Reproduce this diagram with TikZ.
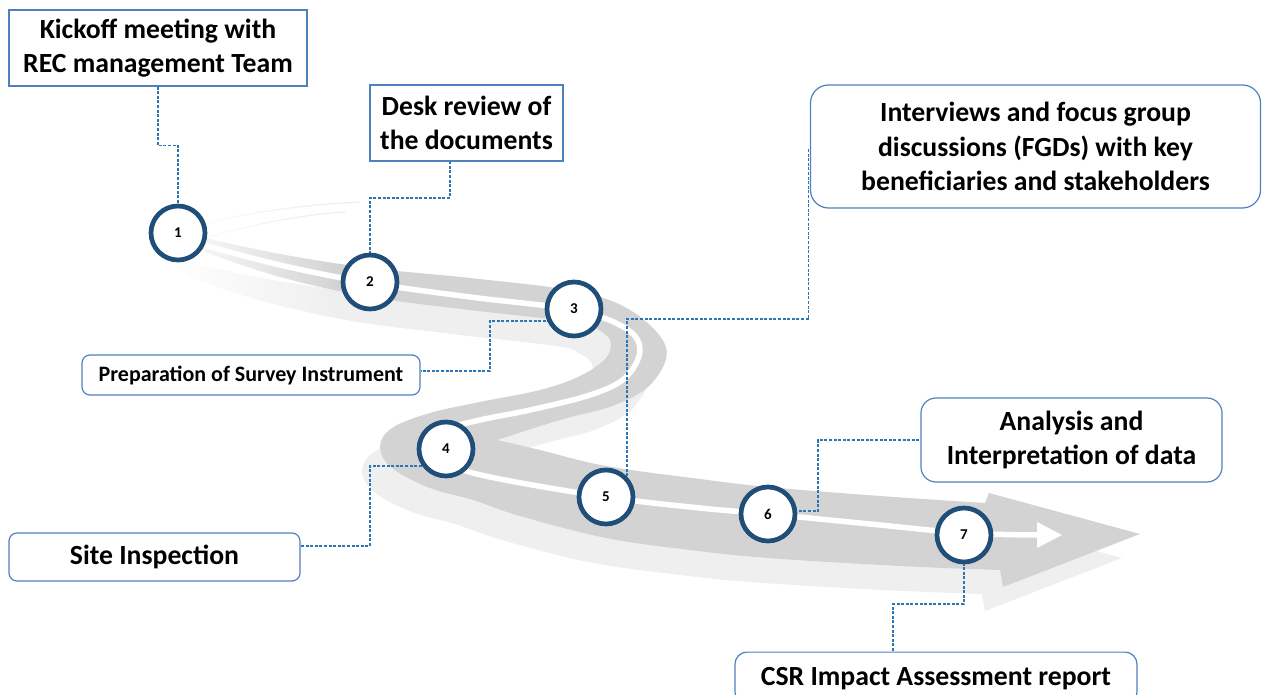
\documentclass[tikz,border=0pt]{standalone}
\usepackage{fontspec}
\setmainfont{Carlito}
\usetikzlibrary{fadings}

\definecolor{roadgray}{HTML}{D3D3D3}
\definecolor{shadowgray}{HTML}{EFEFEF}
\definecolor{boxblue}{HTML}{4F81BD}
\definecolor{connblue}{HTML}{2E75B6}
\definecolor{dotblue}{HTML}{1F4E79}

\tikzfading[name=fadeoutright, left color=transparent!0, right color=transparent!100]

% the winding road as one filled outline
\newcommand{\roadfill}[1]{%
  \fill[#1]
    plot[smooth, tension=0.6] coordinates {(196,236) (280,254) (370,268) (470,278) (574,291) (630,310) (666,347) (652,383) (615,405) (560,420) (497,440)}
    -- plot[smooth, tension=0.6] coordinates {(497,440) (540,450) (606,466) (700,479) (768,487) (880,496) (985,503)}
    -- (989,493) -- (1140,534) -- (1003,587) -- (1000,570)
    -- plot[smooth, tension=0.6] coordinates {(1000,570) (900,566) (768,558) (690,550) (606,538) (520,516) (473,500) (430,488) (392,468) (380,447) (392,428) (430,413) (480,402) (540,390) (580,376) (606,358) (610,340) (595,328) (574,322) (470,310) (370,297) (280,277) (205,252)}
    -- cycle;}

\begin{document}
\begin{tikzpicture}[x=1pt, y=-1pt,
  sqbox/.style={draw=boxblue, line width=1.2pt, fill=white, inner sep=0pt, align=center,
    font=\bfseries\fontsize{27.7}{34.5}\selectfont},
  rbox/.style={sqbox, rounded corners=#1},
  rbox/.default=12pt,
  stepdot/.style={circle, draw=dotblue, line width=4.7pt, fill=white, minimum size=54pt,
    inner sep=0pt, font=\bfseries\fontsize{15}{15}\selectfont},
  conn/.style={draw=connblue, line width=1.1pt, dash pattern=on 3pt off 1.6pt},
  faint/.style={draw=black!7, line width=1.2pt}]
\useasboundingbox (0,0) rectangle (1262,695);
\clip (0,0) rectangle (1262,695);

% road: shadow, body, faded far end
\begin{scope}[shift={(-18,24)}]
  \roadfill{shadowgray}
\end{scope}
\roadfill{roadgray}
\draw[faint] (200,226) .. controls (250,210) and (320,204) .. (360,202);
\draw[faint] (205,238) .. controls (260,222) and (310,214) .. (345,212);
\fill[white, path fading=fadeoutright] (170,200) rectangle (340,340);

% white centre stripe with its arrow tip
\draw[white, line width=5.5pt, line cap=round]
  plot[smooth, tension=0.6] coordinates {(200,244) (280,265) (370,283) (470,297) (574,310) (625,328) (640,350) (625,378) (590,395) (530,410) (480,420) (445,430) (432,447) (450,464) (490,477) (606,497) (700,508) (768,514) (870,524) (964,533) (1040,535)};
\fill[white] (1037,522) -- (1062,535) -- (1037,548) -- cycle;

% text boxes
\node[sqbox, minimum width=298pt, minimum height=76pt] (b1) at (158,48) {Kickoff meeting with\\REC management Team};
\node[sqbox, minimum width=193pt, minimum height=76pt] (b2) at (466.5,123) {Desk review of\\the documents};
\node[rbox=18pt, minimum width=450pt, minimum height=123pt] (b3) at (1035.5,146.5) {Interviews and focus group\\discussions (FGDs) with key\\beneficiaries and stakeholders};
\node[rbox=8pt, minimum width=338pt, minimum height=40pt, font=\bfseries\fontsize{22}{25}\selectfont] (b4) at (251,375) {Preparation of Survey Instrument};
\node[rbox=8pt, minimum width=291pt, minimum height=48pt] (b5) at (154.5,557) {Site Inspection};
\node[rbox=15pt, minimum width=301pt, minimum height=84pt] (b6) at (1071.5,440) {Analysis and\\Interpretation of data};
\node[rbox=12pt, minimum width=402pt, minimum height=52pt, anchor=north] (b7) at (936,651.5) {CSR Impact Assessment report};

% centres of the step markers
\coordinate (p1) at (178,233);
\coordinate (p2) at (370,282);
\coordinate (p3) at (574,309);
\coordinate (p4) at (446,449);
\coordinate (p5) at (606,497);
\coordinate (p6) at (768,514);
\coordinate (p7) at (964,535);

% dashed leaders from boxes to steps
\draw[conn] (b1.south) -- ++(0,59) -| (p1);
\draw[conn] (p2) -- ++(0,-84) -| ([xshift=-16.5pt]b2.south);
\draw[conn] ([shift={(-19,12)}]p3) -- ++(-65,0) |- ([shift={(0,-4)}]b4.east);
\draw[conn] ([shift={(-15,17)}]p4) -- ++(-61,0) |- ([shift={(0,-11)}]b5.east);
\draw[conn] ([shift={(21,-7)}]p5) -- ++(0,-171) -| ([shift={(-1,1.5)}]b3.west);
\draw[conn] ([shift={(17,-3)}]p6) -- ++(33,0) |- (b6.west);
\draw[conn] (p7) -- ++(0,69) -| ([xshift=-43pt]b7.north);

% step markers drawn over the leaders
\foreach \n in {1,...,7}
  \node[stepdot] (c\n) at (p\n) {\n};
\end{tikzpicture}
\end{document}
